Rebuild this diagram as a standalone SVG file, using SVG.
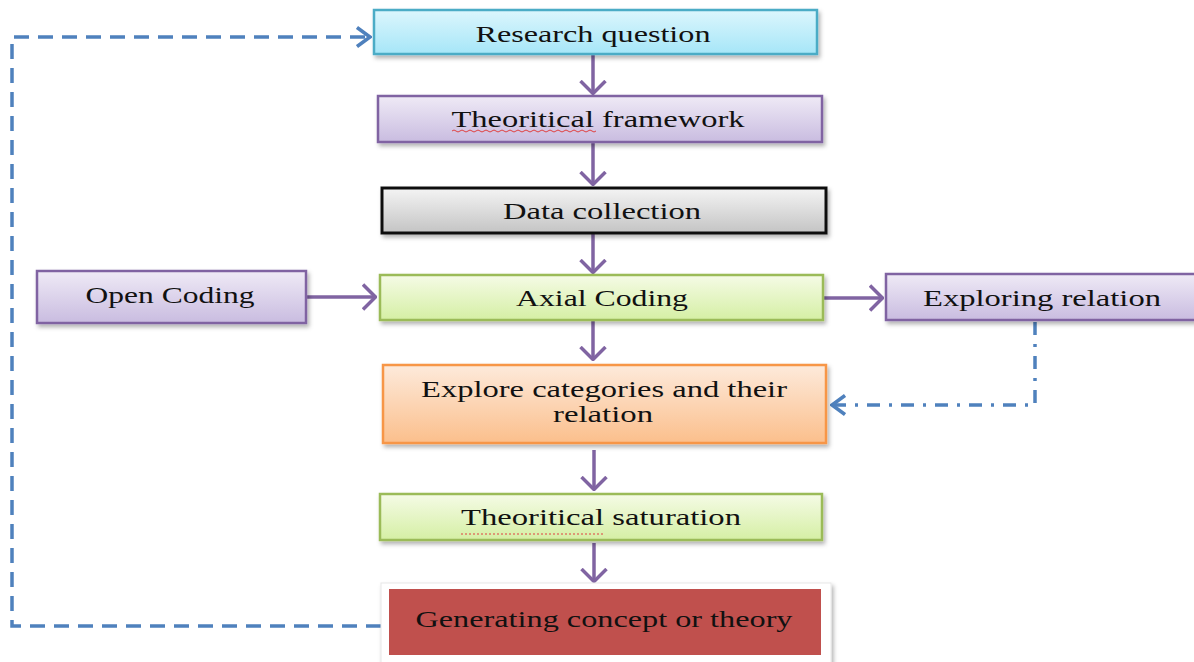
<svg xmlns="http://www.w3.org/2000/svg" width="1194" height="662" viewBox="0 0 1194 662">
<defs>
<linearGradient id="gCyan" x1="0" y1="0" x2="0" y2="1"><stop offset="0" stop-color="#dcf6fd"/><stop offset="1" stop-color="#a6e6f8"/></linearGradient>
<linearGradient id="gPurple" x1="0" y1="0" x2="0" y2="1"><stop offset="0" stop-color="#efeaf6"/><stop offset="1" stop-color="#c9bce0"/></linearGradient>
<linearGradient id="gGray" x1="0" y1="0" x2="0" y2="1"><stop offset="0" stop-color="#f4f4f4"/><stop offset="1" stop-color="#c4c4c4"/></linearGradient>
<linearGradient id="gGreen" x1="0" y1="0" x2="0" y2="1"><stop offset="0" stop-color="#f5fbe6"/><stop offset="1" stop-color="#d5efa4"/></linearGradient>
<linearGradient id="gOrange" x1="0" y1="0" x2="0" y2="1"><stop offset="0" stop-color="#fdeadb"/><stop offset="1" stop-color="#fbbf8c"/></linearGradient>
<filter id="sh" x="-5%" y="-20%" width="110%" height="150%"><feDropShadow dx="2" dy="3" stdDeviation="2" flood-color="#000" flood-opacity="0.3"/></filter>
<marker id="aP" viewBox="0 0 15 28" refX="14" refY="14" markerWidth="15" markerHeight="28" markerUnits="userSpaceOnUse" orient="auto"><path d="M1,1.5 L13.5,14 L1,26.5" fill="none" stroke="#8064a2" stroke-width="3.5"/></marker>
<marker id="aB" viewBox="0 0 16 22" refX="14" refY="11" markerWidth="16" markerHeight="22" markerUnits="userSpaceOnUse" orient="auto"><path d="M1,1.5 L14,11 L1,20.5" fill="none" stroke="#4f81bd" stroke-width="3.5"/></marker>
</defs>
<style>
.t{font-family:"Liberation Serif","Times New Roman",serif;font-size:23px;fill:#111;text-anchor:middle}
.c{stroke:#8064a2;stroke-width:3.5;fill:none;marker-end:url(#aP)}
.b{stroke:#4f81bd;stroke-width:3.5;fill:none}
</style>
<rect width="1194" height="662" fill="#fff"/>

<g id="connectors">
<path class="c" d="M593,54 V94"/>
<path class="c" d="M593,142 V185"/>
<path class="c" d="M593,233 V273"/>
<path class="c" d="M306,297 H376"/>
<path class="c" d="M823,298 H883"/>
<path class="c" d="M593,320 V360"/>
<path class="c" d="M594,450 V490"/>
<path class="c" d="M594,543 V582"/>
<path class="b" d="M1035,322 V405 H832" stroke-dasharray="13,9,3,9" marker-end="url(#aB)"/>
<path class="b" d="M381,626 H12 V37 H370" stroke-dasharray="15,9" marker-end="url(#aB)"/>
</g>

<g id="research-question">
<rect x="374" y="10" width="443" height="44" fill="url(#gCyan)" stroke="#4bacc6" stroke-width="2.5" filter="url(#sh)"/>
<text class="t" x="593" y="42" textLength="235" lengthAdjust="spacingAndGlyphs">Research question</text>
</g>

<g id="theoretical-framework">
<rect x="378" y="96" width="444" height="46" fill="url(#gPurple)" stroke="#8064a2" stroke-width="2.5" filter="url(#sh)"/>
<text class="t" x="598" y="127" textLength="293" lengthAdjust="spacingAndGlyphs">Theoritical framework</text>
<path d="M452,131 q2,-2 4,0 t4,0 t4,0 t4,0 t4,0 t4,0 t4,0 t4,0 t4,0 t4,0 t4,0 t4,0 t4,0 t4,0 t4,0 t4,0 t4,0 t4,0 t4,0 t4,0 t4,0 t4,0 t4,0 t4,0 t4,0 t4,0 t4,0 t4,0 t4,0 t4,0 t4,0 t4,0 t4,0 t4,0 t4,0 t4,0" fill="none" stroke="#e04040" stroke-width="1"/>
</g>

<g id="data-collection">
<rect x="382" y="188" width="444" height="45" fill="url(#gGray)" stroke="#111" stroke-width="3" filter="url(#sh)"/>
<text class="t" x="602" y="219" textLength="198" lengthAdjust="spacingAndGlyphs">Data collection</text>
</g>

<g id="open-coding">
<rect x="37" y="271" width="269" height="52" fill="url(#gPurple)" stroke="#8064a2" stroke-width="2.5" filter="url(#sh)"/>
<text class="t" x="170" y="303" textLength="169" lengthAdjust="spacingAndGlyphs">Open Coding</text>
</g>

<g id="axial-coding">
<rect x="380" y="275" width="443" height="45" fill="url(#gGreen)" stroke="#9bbb59" stroke-width="2.5" filter="url(#sh)"/>
<text class="t" x="602" y="306" textLength="172" lengthAdjust="spacingAndGlyphs">Axial Coding</text>
</g>

<g id="exploring-relation">
<rect x="886" y="274" width="312" height="46" fill="url(#gPurple)" stroke="#8064a2" stroke-width="2.5" filter="url(#sh)"/>
<text class="t" x="1042" y="306" textLength="238" lengthAdjust="spacingAndGlyphs">Exploring relation</text>
</g>

<g id="explore-categories">
<rect x="383" y="365" width="443" height="78" fill="url(#gOrange)" stroke="#f79646" stroke-width="2.5" filter="url(#sh)"/>
<text class="t" x="604" y="397" textLength="366" lengthAdjust="spacingAndGlyphs">Explore categories and their</text>
<text class="t" x="603" y="422" textLength="100" lengthAdjust="spacingAndGlyphs">relation</text>
</g>

<g id="theoretical-saturation">
<rect x="380" y="494" width="442" height="46" fill="url(#gGreen)" stroke="#9bbb59" stroke-width="2.5" filter="url(#sh)"/>
<text class="t" x="601" y="525" textLength="280" lengthAdjust="spacingAndGlyphs">Theoritical saturation</text>
<path d="M461,534 H603" fill="none" stroke="#e04040" stroke-width="1.2" stroke-dasharray="2,2"/>
</g>

<g id="generating-concept">
<rect x="381" y="583" width="450" height="82" fill="#fff" stroke="#e8e8e8" stroke-width="1" filter="url(#sh)"/>
<rect x="389" y="589" width="432" height="66" fill="#c0504d"/>
<text class="t" x="604" y="627" textLength="377" lengthAdjust="spacingAndGlyphs">Generating concept or theory</text>
</g>
</svg>
